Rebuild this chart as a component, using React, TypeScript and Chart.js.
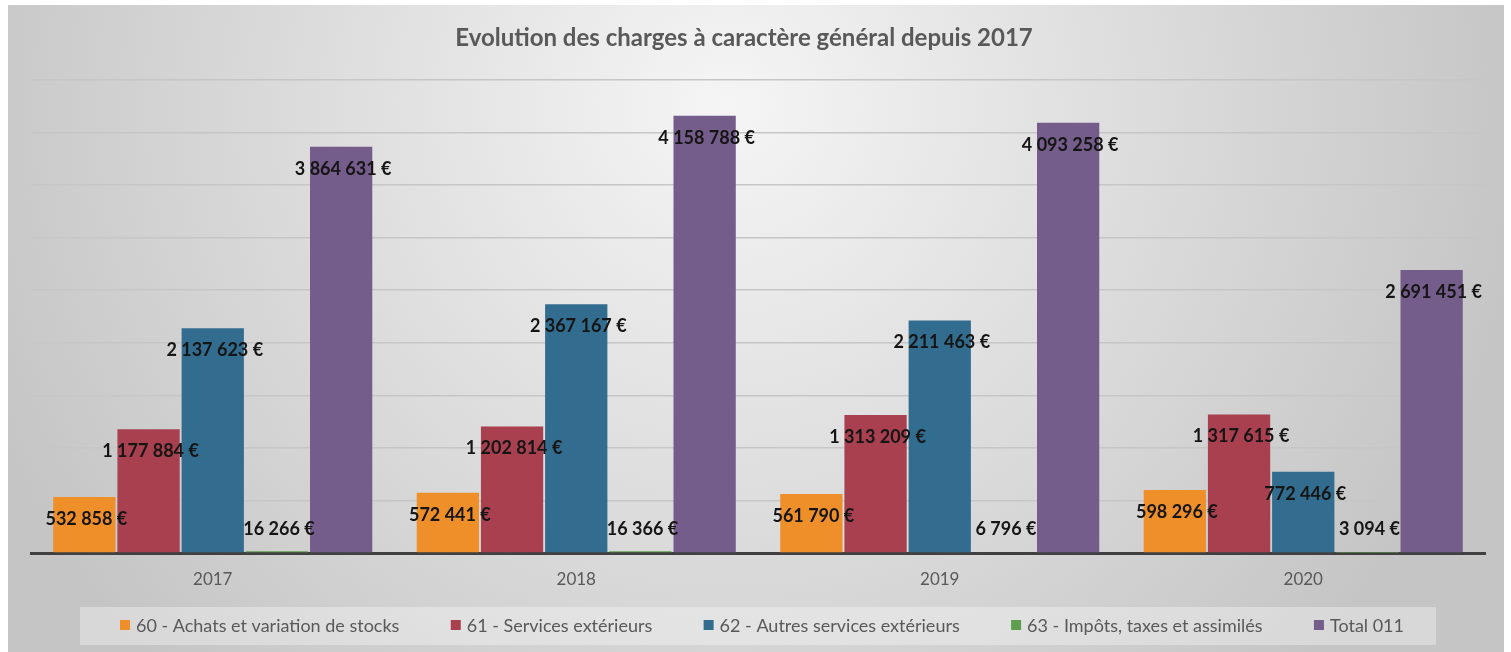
import React, { useEffect, useRef } from "react";
import { Chart, registerables } from "chart.js";

Chart.register(...registerables);

const years = ["2017", "2018", "2019", "2020"];
const seriesNames = [
  "60 - Achats et variation de stocks",
  "61 - Services extérieurs",
  "62 - Autres services extérieurs",
  "63 - Impôts, taxes et assimilés",
  "Total 011",
];
const achats = [532858, 572441, 561790, 598296];
const services = [1177884, 1202814, 1313209, 1317615];
const autres = [2137623, 2367167, 2211463, 772446];
const impots = [16266, 16366, 6796, 3094];
const total = [3864631, 4158788, 4093258, 2691451];
const seriesColors = ["#EE8F2A", "#A8404F", "#326C8E", "#5E9E4E", "#755D8B"];
const chartTitle = "Evolution des charges à caractère général depuis 2017";
const yMax = 4500000;
const yStep = 500000;

const fmt = (v: number) => String(v).replace(/\B(?=(\d{3})+(?!\d))/g, " ") + " €";

const W = 1496;
const H = 647;

const bgPlugin = {
  id: "bgPlugin",
  beforeDraw(chart: any) {
    const ctx = chart.ctx;
    ctx.save();
    const g = ctx.createRadialGradient(720, 100, 0, 720, 100, 800);
    g.addColorStop(0, "#f5f5f5");
    g.addColorStop(1, "#c5c5c5");
    ctx.fillStyle = g;
    ctx.fillRect(0, 0, chart.width, chart.height);
    ctx.restore();
  },
};

const titlePlugin = {
  id: "titlePlugin",
  afterDraw(chart: any) {
    const ctx = chart.ctx;
    ctx.save();
    ctx.font = "bold 24px Lato";
    ctx.fillStyle = "#595959";
    ctx.textAlign = "center";
    ctx.textBaseline = "middle";
    ctx.fillText(chartTitle, 736, 33);
    ctx.restore();
  },
};

const legendPlugin = {
  id: "legendPlugin",
  afterDraw(chart: any) {
    const ctx = chart.ctx;
    ctx.save();
    ctx.font = "18px Lato";
    const sq = 10;
    const gapSq = 6;
    const widths = chart.data.datasets.map((d: any) => sq + gapSq + ctx.measureText(d.label).width);
    const span = 1284;
    const startX = 112;
    const sum = widths.reduce((a: number, b: number) => a + b, 0);
    const gap = (span - sum) / (widths.length - 1);
    const cy = 620;
    ctx.fillStyle = "rgba(255,255,255,0.33)";
    ctx.fillRect(startX - 40, 602, span + 72, 38);
    let x = startX;
    chart.data.datasets.forEach((d: any, i: number) => {
      ctx.fillStyle = d.backgroundColor;
      ctx.fillRect(x, cy - sq / 2, sq, sq);
      ctx.fillStyle = "#595959";
      ctx.textAlign = "left";
      ctx.textBaseline = "middle";
      ctx.fillText(d.label, x + sq + gapSq, cy + 1);
      x += widths[i] + gap;
    });
    ctx.restore();
  },
};

const labelPlugin = {
  id: "labelPlugin",
  afterDatasetsDraw(chart: any) {
    const ctx = chart.ctx;
    ctx.save();
    ctx.font = "bold 18px Lato";
    ctx.fillStyle = "#151515";
    ctx.textAlign = "center";
    ctx.textBaseline = "middle";
    chart.data.datasets.forEach((d: any, di: number) => {
      const meta = chart.getDatasetMeta(di);
      meta.data.forEach((bar: any, i: number) => {
        const y = Math.min(bar.y + 22, bar.base - 23);
        ctx.fillText(fmt(d.data[i]), bar.x + 2, y);
      });
    });
    ctx.restore();
  },
};

export default function App() {
  const ref = useRef<HTMLCanvasElement>(null);
  useEffect(() => {
    if (!ref.current) return;
    Chart.defaults.font.family = "Lato";
    const data = [achats, services, autres, impots, total];
    const chart = new Chart(ref.current, {
      type: "bar",
      data: {
        labels: years,
        datasets: seriesNames.map((name, i) => ({
          label: name,
          data: data[i],
          backgroundColor: seriesColors[i],
          borderWidth: 0,
          barPercentage: 0.97,
          categoryPercentage: 0.883,
        })),
      },
      options: {
        responsive: false,
        animation: false,
        devicePixelRatio: 1,
        layout: { padding: { top: 75, left: 23, right: 19, bottom: 59 } },
        plugins: {
          legend: { display: false },
          title: { display: false },
          tooltip: { enabled: false },
        },
        scales: {
          x: {
            grid: { display: false, drawTicks: false },
            border: { display: true, color: "#404040", width: 3 },
            ticks: { color: "#595959", font: { size: 17, family: "Lato" }, padding: 16 },
            afterFit: (s: any) => {
              s.height = 40;
            },
          },
          y: {
            min: 0,
            max: yMax,
            ticks: { display: false, stepSize: yStep },
            grid: { color: "#c6c6c6", lineWidth: 1.5, drawTicks: false },
            border: { display: false },
            afterFit: (s: any) => {
              s.width = 0;
            },
          },
        },
      },
      plugins: [bgPlugin, titlePlugin, legendPlugin, labelPlugin],
    });
    return () => chart.destroy();
  }, []);
  return (
    <div style={{ position: "fixed", left: 8, top: 5, width: W, height: H }}>
      <canvas ref={ref} width={W} height={H} style={{ display: "block" }} />
    </div>
  );
}
